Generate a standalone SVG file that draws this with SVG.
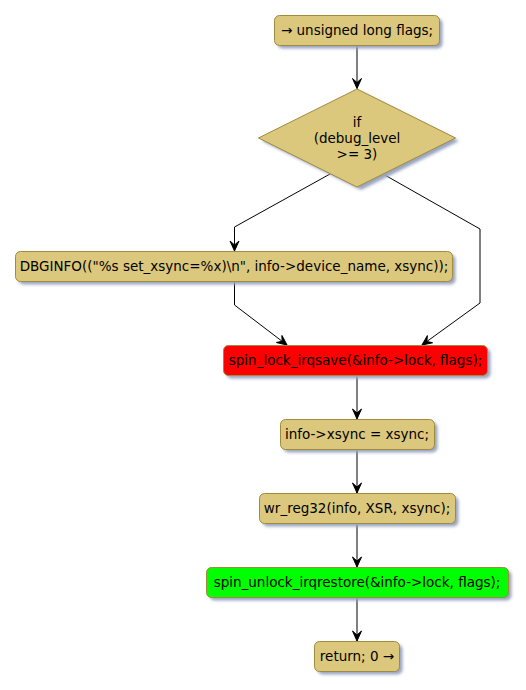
<svg xmlns="http://www.w3.org/2000/svg" width="526" height="690" viewBox="0 0 526 690">
<defs>
<filter id="sh" x="-10%" y="-20%" width="130%" height="160%"><feGaussianBlur stdDeviation="1.5"/></filter>
<marker id="ah" markerWidth="12" markerHeight="11" refX="11" refY="5.5" orient="auto" markerUnits="userSpaceOnUse" viewBox="0 0 12 11">
<polygon points="1,1 11,5.5 1,10 5,5.5" fill="#000" stroke="#000" stroke-width="1"/>
</marker>
</defs>
<style>
.box{fill:#DCC87C;stroke:#A08A3C;stroke-width:1}
.red{fill:#FF0000;stroke:#A08A3C;stroke-width:1}
.green{fill:#00FF00;stroke:#A08A3C;stroke-width:1}
.shd{fill:#9AA6C0;filter:url(#sh)}
text{font-family:"DejaVu Sans",sans-serif;font-size:13.5px;fill:#000;text-anchor:middle}
.ln{fill:none;stroke:#000;stroke-width:1;marker-end:url(#ah)}
</style>
<rect width="526" height="690" fill="#fff"/>
<g id="connectors">
<path class="ln" d="M357,45 L357,88.5"/>
<path class="ln" d="M330,174 L234.5,227 L234.5,251"/>
<path class="ln" d="M383,174 L480,229 L480,303 L422,345"/>
<path class="ln" d="M234.5,282 L234.5,305 L287,345"/>
<path class="ln" d="M357,375.5 L357,419"/>
<path class="ln" d="M357,449.5 L357,493"/>
<path class="ln" d="M357,523.5 L357,567"/>
<path class="ln" d="M357,597.5 L357,641"/>
</g>
<g id="n1">
<rect class="shd" x="277.5" y="18.5" width="165" height="30" rx="5"/>
<rect class="box" x="274.5" y="15.5" width="165" height="30" rx="5"/>
<text x="357" y="35">→ unsigned long flags;</text>
</g>
<g id="n2">
<polygon class="shd" points="361,92 459,141 361,190 262,141"/>
<polygon class="box" points="357,89 455.5,138 357,187 258.5,138"/>
<text x="357" y="127">if</text>
<text x="357" y="143">(debug_level</text>
<text x="357" y="159">&gt;= 3)</text>
</g>
<g id="n3">
<rect class="shd" x="18.5" y="254.5" width="437" height="30" rx="5"/>
<rect class="box" x="15.5" y="251.5" width="437" height="30" rx="5"/>
<text x="234" y="271">DBGINFO(("%s set_xsync=%x)\n", info-&gt;device_name, xsync));</text>
</g>
<g id="n4">
<rect class="shd" x="226.5" y="348.5" width="264" height="30" rx="5"/>
<rect class="red" x="223.5" y="345.5" width="264" height="30" rx="5"/>
<text x="355.5" y="365">spin_lock_irqsave(&amp;info-&gt;lock, flags);</text>
</g>
<g id="n5">
<rect class="shd" x="283.5" y="422.5" width="154" height="30" rx="5"/>
<rect class="box" x="280.5" y="419.5" width="154" height="30" rx="5"/>
<text x="357" y="439">info-&gt;xsync = xsync;</text>
</g>
<g id="n6">
<rect class="shd" x="262.5" y="496.5" width="196" height="30" rx="5"/>
<rect class="box" x="259.5" y="493.5" width="196" height="30" rx="5"/>
<text x="357" y="513">wr_reg32(info, XSR, xsync);</text>
</g>
<g id="n7">
<rect class="shd" x="209.5" y="570.5" width="302" height="30" rx="5"/>
<rect class="green" x="206.5" y="567.5" width="302" height="30" rx="5"/>
<text x="357" y="587">spin_unlock_irqrestore(&amp;info-&gt;lock, flags);</text>
</g>
<g id="n8">
<rect class="shd" x="317.5" y="644.5" width="85" height="30" rx="5"/>
<rect class="box" x="314.5" y="641.5" width="85" height="30" rx="5"/>
<text x="357" y="661">return; 0 →</text>
</g>
</svg>
